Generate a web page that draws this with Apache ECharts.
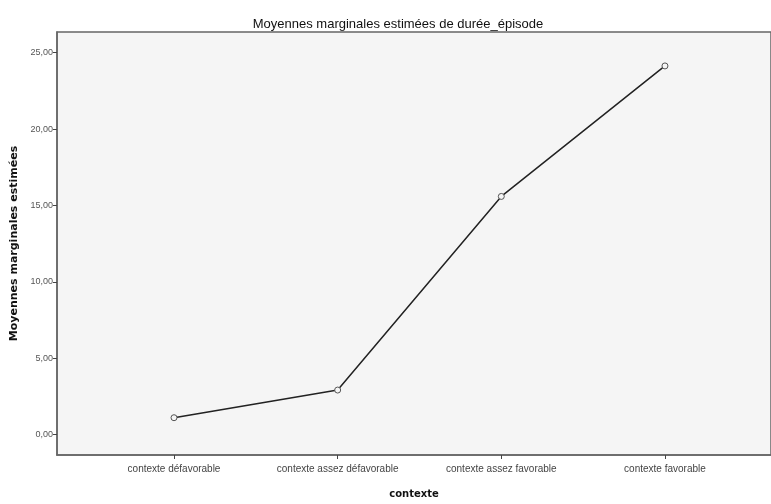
<!DOCTYPE html>
<html><head><meta charset="utf-8">
<script src="https://cdn.jsdelivr.net/npm/echarts@6/dist/echarts.min.js"></script>
<style>html,body{margin:0;padding:0;background:#fff}#c{width:771px;height:504px}</style>
</head><body><div id="c"></div>
<script>
const categories = ['contexte défavorable', 'contexte assez défavorable', 'contexte assez favorable', 'contexte favorable'];
const values = [1.11, 2.92, 15.59, 24.13];
const yTicks = [0, 5, 10, 15, 20, 25];
const titleText = 'Moyennes marginales estimées de durée_épisode';
const yName = 'Moyennes marginales estimées';
const xName = 'contexte';

const chart = echarts.init(document.getElementById('c'));
chart.setOption({
  animation: false,
  backgroundColor: '#ffffff',
  title: {
    text: titleText, left: 393, top: 13, textAlign: 'center',
    textStyle: { fontFamily: 'Liberation Sans', fontSize: 13, fontWeight: 'normal', color: '#111' }
  },
  grid: {
    left: 57, top: 32, right: 0, bottom: 40, show: true,
    backgroundColor: '#f5f5f5', borderColor: '#666', borderWidth: 1.5
  },
  xAxis: {
    type: 'value', min: -0.715, max: 3.648,
    name: xName, nameLocation: 'middle', nameGap: 34,
    nameTextStyle: { fontFamily: 'DejaVu Sans', fontWeight: 'bold', fontSize: 10, color: '#111' },
    axisLine: { show: true, onZero: false, lineStyle: { color: '#666', width: 1.5 } },
    axisTick: { show: true, customValues: [0, 1, 2, 3], length: 4, lineStyle: { color: '#444' } },
    axisLabel: {
      customValues: [0, 1, 2, 3], margin: 9,
      fontFamily: 'Liberation Sans', fontSize: 10, color: '#444',
      formatter: v => categories[Math.round(v)]
    },
    splitLine: { show: false }
  },
  yAxis: {
    type: 'value', min: -1.33, max: 26.35,
    name: yName, nameLocation: 'middle', nameGap: 30, nameRotate: 90,
    nameTextStyle: { fontFamily: 'DejaVu Sans', fontWeight: 'bold', fontSize: 11, color: '#111' },
    axisLine: { show: true, onZero: false, lineStyle: { color: '#666', width: 1.5 } },
    axisTick: { show: true, customValues: yTicks, length: 4, lineStyle: { color: '#444' } },
    axisLabel: {
      customValues: yTicks, margin: 4,
      fontFamily: 'Liberation Sans', fontSize: 9, color: '#555',
      formatter: v => v.toFixed(2).replace('.', ',')
    },
    splitLine: { show: false }
  },
  series: [{
    type: 'line',
    data: values.map((v, i) => [i, v]),
    symbol: 'circle', symbolSize: 6,
    lineStyle: { color: '#222', width: 1.5 },
    itemStyle: { color: '#f5f5f5', borderColor: '#555', borderWidth: 1 }
  }]
});
</script></body></html>
